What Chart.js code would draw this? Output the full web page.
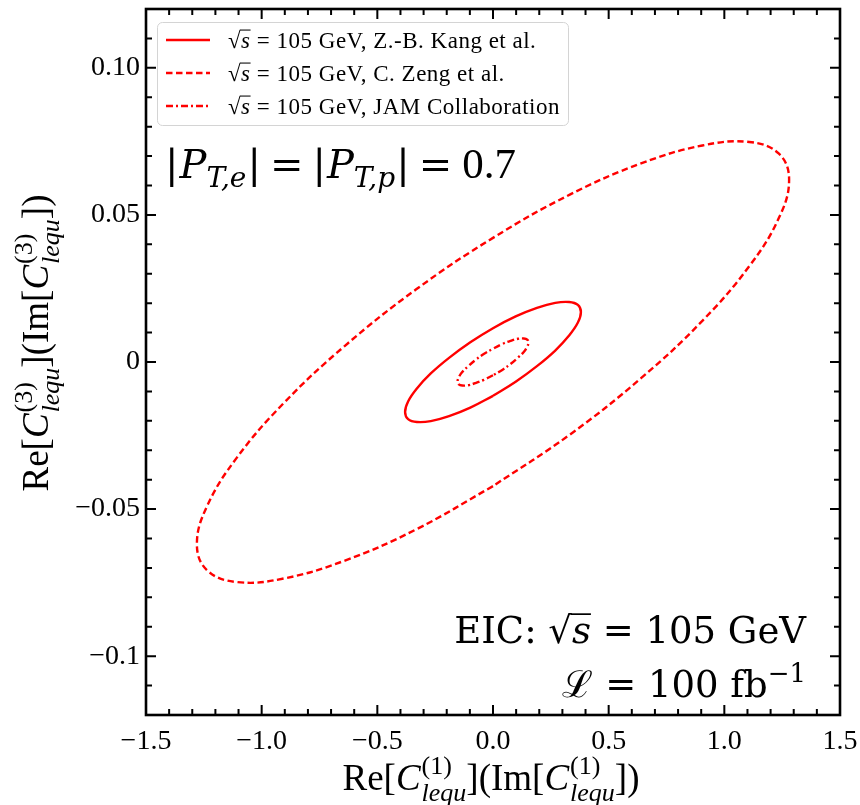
<!DOCTYPE html>
<html>
<head>
<meta charset="utf-8">
<script src="https://cdn.jsdelivr.net/npm/chart.js@4.4.1/dist/chart.umd.min.js"></script>
<style>
  html, body { margin: 0; padding: 0; background: #fff; }
</style>
</head>
<body>
<canvas id="ellipses" width="860" height="805"></canvas>
<script>
'use strict';

// contour points (x, y), walked round each ellipse
const kangX = [0, -0.098, -0.190, -0.269, -0.329, -0.367, -0.380, -0.367, -0.329, -0.269, -0.190, -0.098, 0, 0.098, 0.190, 0.269, 0.329, 0.367, 0.380, 0.367, 0.329, 0.269, 0.190, 0.098, 0];
const kangY = [-0.0115, -0.0155, -0.0184, -0.0201, -0.0204, -0.0194, -0.0170, -0.0134, -0.0090, -0.0039, 0.0014, 0.0067, 0.0115, 0.0155, 0.0184, 0.0201, 0.0204, 0.0194, 0.0170, 0.0134, 0.0090, 0.0039, -0.0014, -0.0067, -0.0115];

const zengX = [0, -0.332, -0.640, -0.905, -1.108, -1.236, -1.280, -1.236, -1.108, -0.905, -0.640, -0.332, 0, 0.332, 0.640, 0.905, 1.108, 1.236, 1.280, 1.236, 1.108, 0.905, 0.640, 0.332, 0];
const zengY = [-0.0422, -0.0569, -0.0675, -0.0736, -0.0748, -0.0708, -0.0620, -0.0490, -0.0326, -0.0140, 0.0055, 0.0247, 0.0422, 0.0569, 0.0675, 0.0736, 0.0748, 0.0708, 0.0620, 0.0490, 0.0326, 0.0140, -0.0055, -0.0247, -0.0422];

const jamX = [0, -0.040, -0.077, -0.108, -0.133, -0.148, -0.153, -0.148, -0.133, -0.108, -0.077, -0.040, 0, 0.040, 0.077, 0.108, 0.133, 0.148, 0.153, 0.148, 0.133, 0.108, 0.077, 0.040, 0];
const jamY = [-0.0045, -0.0061, -0.0072, -0.0079, -0.0080, -0.0076, -0.0066, -0.0052, -0.0034, -0.0015, 0.0006, 0.0027, 0.0045, 0.0061, 0.0072, 0.0079, 0.0080, 0.0076, 0.0066, 0.0052, 0.0034, 0.0015, -0.0006, -0.0027, -0.0045];

const seriesNames = ['Z.-B. Kang et al.', 'C. Zeng et al.', 'JAM Collaboration'];

const xTickVals = [-1.5, -1.0, -0.5, 0.0, 0.5, 1.0, 1.5];
const xTickText = ['\u22121.5', '\u22121.0', '\u22120.5', '0.0', '0.5', '1.0', '1.5'];
const yTickVals = [-0.1, -0.05, 0, 0.05, 0.1];
const yTickText = ['\u22120.1', '\u22120.05', '0', '0.05', '0.10'];

const RED = '#ff0000';
const dashes = [[], [6.5, 3.5], [7, 3, 2, 3]];

function pts(xs, ys) {
  return xs.map((x, i) => ({ x: x, y: ys[i] }));
}

// --- little helper for text with sub/superscripts ---
const CM = 'Liberation Serif';
const CAM = 'DejaVu Serif';

function runWidth(ctx, r) {
  if (r.sup !== undefined || r.sub !== undefined) {
    ctx.font = r.supF || r.f;
    const a = r.sup ? ctx.measureText(r.sup).width : 0;
    ctx.font = r.subF || r.f;
    const b = r.sub ? ctx.measureText(r.sub).width : 0;
    return Math.max(a, b) + (r.gap || 0);
  }
  ctx.font = r.f;
  return ctx.measureText(r.t).width + (r.gap || 0);
}

function drawRuns(ctx, runs, x, y, align) {
  let w = 0;
  runs.forEach(r => { w += runWidth(ctx, r); });
  let cx = align === 'right' ? x - w : align === 'center' ? x - w / 2 : x;
  ctx.textBaseline = 'alphabetic';
  ctx.textAlign = 'left';
  ctx.fillStyle = '#000';
  runs.forEach(r => {
    const rw = runWidth(ctx, r);
    if (r.sup !== undefined || r.sub !== undefined) {
      if (r.sup) { ctx.font = r.supF || r.f; ctx.fillText(r.sup, cx, y + r.supDy); }
      if (r.sub) { ctx.font = r.subF || r.f; ctx.fillText(r.sub, cx, y + r.subDy); }
    } else {
      ctx.font = r.f;
      ctx.fillText(r.t, cx, y + (r.dy || 0));
      if (r.over) {
        ctx.save();
        ctx.strokeStyle = '#000';
        ctx.lineWidth = r.overW || 1;
        ctx.beginPath();
        ctx.moveTo(cx - 1, y - r.over);
        ctx.lineTo(cx + rw, y - r.over);
        ctx.stroke();
        ctx.restore();
      }
    }
    cx += rw;
  });
}

function cTerm(n, size) {
  const s = Math.round(size * 0.7);
  return [
    { t: 'C', f: 'italic ' + size + 'px ' + CM, gap: 1 },
    { sup: '(' + n + ')', sub: 'lequ', supF: s + 'px ' + CM, subF: 'italic ' + s + 'px ' + CM,
      supDy: -size * 0.42, subDy: size * 0.3 }
  ];
}

function axisTitle(n, size) {
  const up = size + 'px ' + CM;
  return [{ t: 'Re[', f: up }].concat(cTerm(n, size), [{ t: '](Im[', f: up }], cTerm(n, size), [{ t: '])', f: up }]);
}

function sqrtS(size, font) {
  return [
    { t: '\u221A', f: size + 'px ' + font },
    { t: 's', f: 'italic ' + size + 'px ' + font, over: size * 0.78, overW: Math.max(1, size / 22) }
  ];
}

const decor = {
  id: 'decor',
  afterDatasetsDraw(chart) {
    const ctx = chart.ctx;
    const a = chart.chartArea;
    const xs = chart.scales.x;
    const ys = chart.scales.y;
    ctx.save();

    // inward ticks on all four sides
    ctx.strokeStyle = '#000';
    ctx.lineWidth = 2;
    ctx.beginPath();
    for (let i = -15; i <= 15; i++) {
      const px = xs.getPixelForValue(i / 10);
      const len = i % 5 === 0 ? 10 : 6;
      ctx.moveTo(px, a.bottom); ctx.lineTo(px, a.bottom - len);
      ctx.moveTo(px, a.top); ctx.lineTo(px, a.top + len);
    }
    for (let i = -12; i <= 12; i++) {
      const py = ys.getPixelForValue(i / 100);
      const len = i % 5 === 0 ? 10 : 6;
      ctx.moveTo(a.left, py); ctx.lineTo(a.left + len, py);
      ctx.moveTo(a.right, py); ctx.lineTo(a.right - len, py);
    }
    ctx.stroke();
    ctx.lineWidth = 2.6;
    ctx.strokeRect(a.left, a.top, a.right - a.left, a.bottom - a.top);

    // legend box
    ctx.fillStyle = 'rgba(255,255,255,0.85)';
    ctx.strokeStyle = '#d4d4d4';
    ctx.lineWidth = 1;
    ctx.beginPath();
    ctx.roundRect(157.5, 22.5, 411, 103, 5);
    ctx.fill();
    ctx.stroke();
    const baseY = [48, 81, 114];
    ctx.letterSpacing = '0.5px';
    seriesNames.forEach((name, i) => {
      ctx.strokeStyle = RED;
      ctx.lineWidth = 2.3;
      ctx.setLineDash(dashes[i]);
      ctx.beginPath();
      ctx.moveTo(166, baseY[i] - 8);
      ctx.lineTo(210, baseY[i] - 8);
      ctx.stroke();
      ctx.setLineDash([]);
      drawRuns(ctx, sqrtS(23, CM).concat([{ t: ' = 105 GeV, ' + name, f: '23px ' + CM }]), 228, baseY[i], 'left');
    });
    ctx.letterSpacing = '0px';

    // annotations
    const big = 40;
    const sub = Math.round(big * 0.7);
    const bf = big + 'px ' + CAM;
    drawRuns(ctx, [
      { t: '|', f: bf, gap: 1 },
      { t: 'P', f: 'italic ' + bf },
      { t: 'T,e', f: 'italic ' + sub + 'px ' + CAM, dy: 9, gap: 1 },
      { t: '|', f: bf, gap: 9 },
      { t: '=', f: bf, gap: 9 },
      { t: '|', f: bf, gap: 1 },
      { t: 'P', f: 'italic ' + bf },
      { t: 'T,p', f: 'italic ' + sub + 'px ' + CAM, dy: 9, gap: 1 },
      { t: '|', f: bf, gap: 9 },
      { t: '=', f: bf, gap: 10 },
      { t: '0.7', f: '43px ' + CM }
    ], 165, 178, 'left');

    const eic = 37;
    drawRuns(ctx, [{ t: 'EIC: ', f: eic + 'px ' + CAM }].concat(sqrtS(eic, CAM), [{ t: ' = 105 GeV', f: eic + 'px ' + CAM }]), 806, 643, 'right');
    drawRuns(ctx, [
      { t: '\u2112 = 100 fb', f: eic + 'px ' + CAM },
      { sup: '\u22121', supF: Math.round(eic * 0.7) + 'px ' + CAM, supDy: -15 }
    ], 806, 697, 'right');

    // axis titles
    drawRuns(ctx, axisTitle(1, 37), 491, 790, 'center');
    ctx.translate(48, 343);
    ctx.rotate(-Math.PI / 2);
    drawRuns(ctx, axisTitle(3, 37), 0, 0, 'center');

    ctx.restore();
  }
};

const tickFont = { family: CM, size: 28 };

new Chart(document.getElementById('ellipses').getContext('2d'), {
  type: 'scatter',
  data: {
    datasets: [
      { label: seriesNames[0], data: pts(kangX, kangY), borderDash: dashes[0] },
      { label: seriesNames[1], data: pts(zengX, zengY), borderDash: dashes[1] },
      { label: seriesNames[2], data: pts(jamX, jamY), borderDash: dashes[2] }
    ].map(d => Object.assign(d, {
      showLine: true,
      borderColor: RED,
      backgroundColor: RED,
      borderWidth: 2.4,
      pointRadius: 0,
      tension: 0.4,
      fill: false
    }))
  },
  options: {
    responsive: false,
    animation: false,
    layout: { padding: { top: 9, right: 20, left: 0, bottom: 0 } },
    plugins: {
      legend: { display: false },
      tooltip: { enabled: false }
    },
    scales: {
      x: {
        type: 'linear',
        min: -1.5,
        max: 1.5,
        grid: { display: false, drawTicks: false },
        border: { display: false },
        afterBuildTicks: s => { s.ticks = xTickVals.map(v => ({ value: v })); },
        afterFit: s => { s.height = 90; s.paddingLeft = 0; s.paddingRight = 0; },
        ticks: {
          font: tickFont,
          color: '#000',
          padding: 10,
          maxRotation: 0,
          autoSkip: false,
          callback: (v, i) => xTickText[i]
        }
      },
      y: {
        type: 'linear',
        min: -0.12,
        max: 0.12,
        grid: { display: false, drawTicks: false },
        border: { display: false },
        afterBuildTicks: s => { s.ticks = yTickVals.map(v => ({ value: v })); },
        afterFit: s => { s.width = 146; s.paddingTop = 0; s.paddingBottom = 0; },
        ticks: {
          font: tickFont,
          color: '#000',
          padding: 6,
          autoSkip: false,
          callback: (v, i) => yTickText[i]
        }
      }
    }
  },
  plugins: [decor]
});
</script>
</body>
</html>
